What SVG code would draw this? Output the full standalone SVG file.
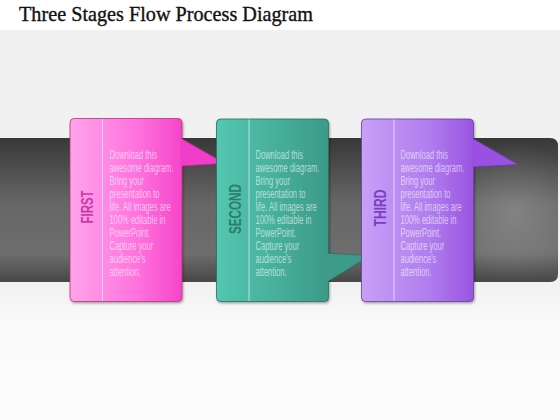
<svg xmlns="http://www.w3.org/2000/svg" width="560" height="420" viewBox="0 0 560 420">
  <defs>
    <linearGradient id="bg" x1="0" y1="30" x2="0" y2="420" gradientUnits="userSpaceOnUse">
      <stop offset="0" stop-color="#f0f0f0"/>
      <stop offset="0.66" stop-color="#f2f2f2"/>
      <stop offset="0.76" stop-color="#fafafa"/>
      <stop offset="1" stop-color="#fcfcfc"/>
    </linearGradient>
    <linearGradient id="band" x1="0" y1="138" x2="0" y2="282" gradientUnits="userSpaceOnUse">
      <stop offset="0" stop-color="#383838"/>
      <stop offset="0.45" stop-color="#666666"/>
      <stop offset="0.8" stop-color="#6e6e6e"/>
      <stop offset="1" stop-color="#474747"/>
    </linearGradient>
    <radialGradient id="glow" cx="515" cy="212" r="70" gradientUnits="userSpaceOnUse">
      <stop offset="0" stop-color="#ffffff" stop-opacity="0.18"/>
      <stop offset="1" stop-color="#ffffff" stop-opacity="0"/>
    </radialGradient>
    <linearGradient id="gPink" x1="0" y1="0" x2="1" y2="0">
      <stop offset="0" stop-color="#ffa3ea"/>
      <stop offset="0.6" stop-color="#ff72dd"/>
      <stop offset="1" stop-color="#f545c9"/>
    </linearGradient>
    <linearGradient id="gTeal" x1="0" y1="0" x2="1" y2="0">
      <stop offset="0" stop-color="#53c7b0"/>
      <stop offset="1" stop-color="#3c9a88"/>
    </linearGradient>
    <linearGradient id="gPurple" x1="0" y1="0" x2="1" y2="0">
      <stop offset="0" stop-color="#c8a0f6"/>
      <stop offset="0.6" stop-color="#b07dee"/>
      <stop offset="1" stop-color="#9a55e1"/>
    </linearGradient>
    <filter id="shadow" x="-10%" y="-10%" width="130%" height="130%">
      <feDropShadow dx="1" dy="1.5" stdDeviation="1.2" flood-color="#000" flood-opacity="0.35"/>
    </filter>
  </defs>
  <style>
    .title { font-family: "Liberation Serif", "DejaVu Serif", serif; font-size: 21px; fill: #111; stroke: #111; stroke-width: 0.35px; }
    .label { font-family: "Liberation Sans", "DejaVu Sans", sans-serif; font-size: 16.5px; font-weight: bold; text-anchor: middle; }
    .body { font-family: "Liberation Sans", "DejaVu Sans", sans-serif; font-size: 12px; fill: #ffffff; fill-opacity: 0.6; }
    .divider { stroke: #ffffff; stroke-opacity: 0.75; stroke-width: 0.8; }
  </style>

  <rect x="0" y="0" width="560" height="420" fill="#ffffff"/>
  <rect x="0" y="30" width="560" height="390" fill="url(#bg)"/>
  <text class="title" x="19" y="21" textLength="294" lengthAdjust="spacingAndGlyphs">Three Stages Flow Process Diagram</text>

  <!-- band -->
  <path d="M0,138 H550 Q558,138 558,146 V274 Q558,282 550,282 H0 Z" fill="url(#band)"/>
  <path d="M0,138 H550 Q558,138 558,146 V274 Q558,282 550,282 H0 Z" fill="url(#glow)"/>

  <g id="connectors"></g>

  <!-- FIRST -->
  <g id="node-first">
    <rect x="70" y="118.5" width="112" height="183" rx="4" fill="url(#gPink)" stroke="#b5337f" stroke-width="0.8" filter="url(#shadow)"/>
    <polygon points="180.5,138.3 224.5,163.3 180.5,166" fill="#f23ccb"/>
    <polyline points="181.5,138.3 224.5,163.3 181.5,166" fill="none" stroke="#b5337f" stroke-width="0.7"/>
    <line class="divider" x1="102.5" y1="119" x2="102.5" y2="301"/>
    <text class="label" fill="#c93aa6" transform="translate(87,207) rotate(-90)" x="0" y="6" textLength="33" lengthAdjust="spacingAndGlyphs">FIRST</text>
    <g transform="translate(109.5,0) scale(0.63,1)">
      <text class="body" x="0" y="159.5">Download this</text>
      <text class="body" x="0" y="172.5">awesome diagram.</text>
      <text class="body" x="0" y="185.5">Bring your</text>
      <text class="body" x="0" y="198.5">presentation to</text>
      <text class="body" x="0" y="211.5">life. All images are</text>
      <text class="body" x="0" y="224.5">100% editable in</text>
      <text class="body" x="0" y="237.5">PowerPoint.</text>
      <text class="body" x="0" y="250.5">Capture your</text>
      <text class="body" x="0" y="263.5">audience's</text>
      <text class="body" x="0" y="276.5">attention.</text>
    </g>
  </g>

  <!-- SECOND -->
  <g id="node-second">
    <rect x="216.5" y="119" width="112" height="182.5" rx="4" fill="url(#gTeal)" stroke="#2b6e62" stroke-width="0.8" filter="url(#shadow)"/>
    <polygon points="327,253.3 370,255.7 327,281.7" fill="#3c9c89"/>
    <polyline points="328,253.3 370,255.7 328,281.7" fill="none" stroke="#2b6e62" stroke-width="0.7"/>
    <line class="divider" x1="249" y1="119.5" x2="249" y2="301"/>
    <text class="label" fill="#2b7d6e" transform="translate(235,209) rotate(-90)" x="0" y="6" textLength="50" lengthAdjust="spacingAndGlyphs">SECOND</text>
    <g transform="translate(255.5,0) scale(0.63,1)">
      <text class="body" x="0" y="159.5">Download this</text>
      <text class="body" x="0" y="172.5">awesome diagram.</text>
      <text class="body" x="0" y="185.5">Bring your</text>
      <text class="body" x="0" y="198.5">presentation to</text>
      <text class="body" x="0" y="211.5">life. All images are</text>
      <text class="body" x="0" y="224.5">100% editable in</text>
      <text class="body" x="0" y="237.5">PowerPoint.</text>
      <text class="body" x="0" y="250.5">Capture your</text>
      <text class="body" x="0" y="263.5">audience's</text>
      <text class="body" x="0" y="276.5">attention.</text>
    </g>
  </g>

  <!-- THIRD -->
  <g id="node-third">
    <rect x="361.5" y="119" width="112" height="182.5" rx="4" fill="url(#gPurple)" stroke="#6c3ba2" stroke-width="0.8" filter="url(#shadow)"/>
    <polygon points="472,138.3 518,164.5 472,167" fill="#9a50e0"/>
    <polyline points="473,138.3 518,164.5 473,167" fill="none" stroke="#6c3ba2" stroke-width="0.7"/>
    <line class="divider" x1="394" y1="119.5" x2="394" y2="301"/>
    <text class="label" fill="#7a3fc1" transform="translate(380,208) rotate(-90)" x="0" y="6" textLength="37" lengthAdjust="spacingAndGlyphs">THIRD</text>
    <g transform="translate(400.5,0) scale(0.63,1)">
      <text class="body" x="0" y="159.5">Download this</text>
      <text class="body" x="0" y="172.5">awesome diagram.</text>
      <text class="body" x="0" y="185.5">Bring your</text>
      <text class="body" x="0" y="198.5">presentation to</text>
      <text class="body" x="0" y="211.5">life. All images are</text>
      <text class="body" x="0" y="224.5">100% editable in</text>
      <text class="body" x="0" y="237.5">PowerPoint.</text>
      <text class="body" x="0" y="250.5">Capture your</text>
      <text class="body" x="0" y="263.5">audience's</text>
      <text class="body" x="0" y="276.5">attention.</text>
    </g>
  </g>
</svg>
